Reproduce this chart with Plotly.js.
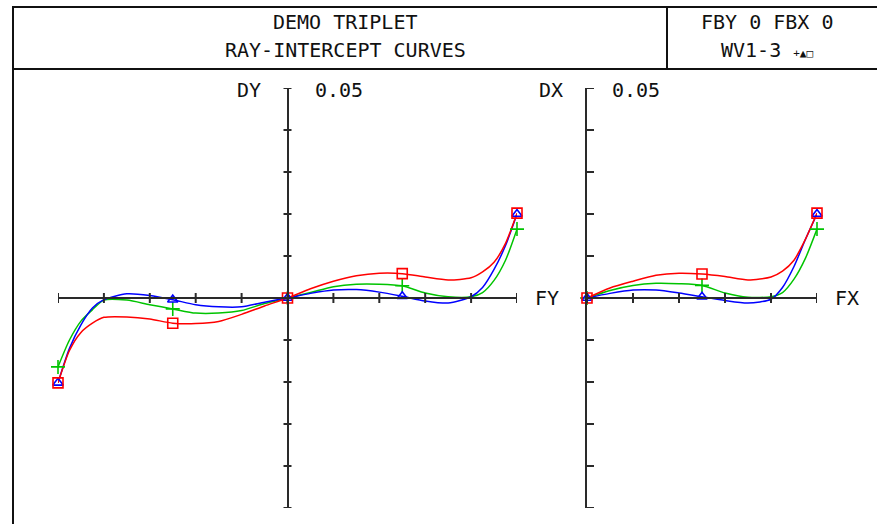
<!DOCTYPE html>
<html>
<head>
<meta charset="utf-8">
<script src="https://cdn.plot.ly/plotly-3.0.1.min.js"></script>
<style>html,body{margin:0;padding:0;background:#fff;}#chart{width:877px;height:524px;}</style>
</head>
<body>
<div id="chart"></div>
<script>
// ---- data ----
const fy = [-1,-0.95,-0.9,-0.85,-0.8,-0.7,-0.6,-0.5,-0.4,-0.3,-0.2,-0.1,0,0.1,0.2,0.3,0.4,0.5,0.6,0.7,0.8,0.85,0.9,0.95,1];
const dyRed   = [-0.0202,-0.0125,-0.0082,-0.0060,-0.0046,-0.0045,-0.0050,-0.0060,-0.0061,-0.0056,-0.0039,-0.0019,0,0.0022,0.0040,0.0053,0.0059,0.0058,0.0050,0.0043,0.0048,0.0062,0.0085,0.0130,0.0202];
const dyGreen = [-0.0164,-0.0100,-0.0055,-0.0028,-0.0005,-0.0005,-0.0016,-0.0026,-0.0036,-0.0036,-0.0030,-0.0013,0,0.0013,0.0027,0.0033,0.0033,0.0029,0.0012,0.0003,0.0003,0.0013,0.0042,0.0090,0.0164];
const dyBlue  = [-0.0202,-0.0120,-0.0064,-0.0024,-0.0004,0.0010,0.0006,-0.0004,-0.0016,-0.0021,-0.0021,-0.0010,0,0.0011,0.0019,0.0020,0.0014,0.0004,-0.0007,-0.0012,0.0003,0.0025,0.0068,0.0125,0.0200];

const fx = [0,0.1,0.2,0.3,0.4,0.5,0.6,0.7,0.8,0.85,0.9,0.95,1];
const dxRed   = [0,0.0024,0.0040,0.0054,0.0059,0.0057,0.0051,0.0043,0.0050,0.0064,0.0090,0.0140,0.0202];
const dxGreen = [0,0.0018,0.0030,0.0035,0.0034,0.0030,0.0012,0.0002,0.0003,0.0013,0.0045,0.0095,0.0164];
const dxBlue  = [0,0.0011,0.0019,0.0019,0.0012,0.0003,-0.0006,-0.0012,-0.0003,0.0025,0.0075,0.0140,0.0200];

const markFY = [-1,-0.5,0,0.5,1];
const markFX = [0,0.5,1];

const tickFY = [-1,-0.8,-0.6,-0.4,-0.2,0,0.2,0.4,0.6,0.8,1];
const tickFX = [0,0.2,0.4,0.6,0.8,1];
const tickD  = [-0.05,-0.04,-0.03,-0.02,-0.01,0,0.01,0.02,0.03,0.04,0.05];

const titleLines = ["DEMO TRIPLET","RAY-INTERCEPT CURVES"];
const infoLines = ["FBY 0 FBX 0","WV1-3 <span style='font-size:11px'>+▲□</span>"];
const axisLabels = {dy:'DY', dx:'DX', fy:'FY', fx:'FX', top:'0.05'};

// ---- helpers ----
const W = 877, H = 524;
const px = v => v / W;
const py = v => 1 - v / H;
const pick = (xs, ys, at) => at.map(a => ys[xs.indexOf(a)]);

const colors = {red:'#ff0000', green:'#00c400', blue:'#0000ff'};
const FONT = 'DejaVu Sans Mono, monospace';
const AX = '#2a2a2a';

const series = [
  {c:colors.green, dy:dyGreen, dx:dxGreen, sym:'cross-thin-open', size:10},
  {c:colors.blue,  dy:dyBlue,  dx:dxBlue,  sym:'triangle-up-open', size:9},
  {c:colors.red,   dy:dyRed,   dx:dxRed,   sym:'square-open', size:10}
];

const traces = [];
series.forEach(s => {
  traces.push({x:fy, y:s.dy, xaxis:'x', yaxis:'y', mode:'lines', cliponaxis:false, line:{color:s.c, width:1.5, shape:'spline', smoothing:0.7}, hoverinfo:'skip'});
  traces.push({x:fx, y:s.dx, xaxis:'x2', yaxis:'y2', mode:'lines', cliponaxis:false, line:{color:s.c, width:1.5, shape:'spline', smoothing:0.7}, hoverinfo:'skip'});
});
series.forEach(s => {
  traces.push({x:markFY, y:pick(fy, s.dy, markFY), xaxis:'x', yaxis:'y', mode:'markers', cliponaxis:false, marker:{symbol:s.sym, size:s.size, color:s.c, line:{color:s.c, width:1.6}}, hoverinfo:'skip'});
  traces.push({x:markFX, y:pick(fx, s.dx, markFX), xaxis:'x2', yaxis:'y2', mode:'markers', cliponaxis:false, marker:{symbol:s.sym, size:s.size, color:s.c, line:{color:s.c, width:1.6}}, hoverinfo:'skip'});
});

const xdL = [px(58), px(517)];
const xdR = [px(587), px(817)];
const yd  = [py(508), py(88)];
const yZero = (yd[0] + yd[1]) / 2;
const xZeroL = (xdL[0] + xdL[1]) / 2;

const baseAx = {showgrid:false, zeroline:false, showticklabels:false, showline:true, linecolor:AX, linewidth:2, ticks:'', fixedrange:true};

// tick marks (both sides of the axis line, or one side for the DX axis)
const tickShapes = [];
const tk = {color:AX, width:2};
tickFY.forEach(v => tickShapes.push({type:'line', xref:'x', yref:'paper', x0:v, x1:v, y0:yZero-5/H, y1:yZero+5/H, line:tk}));
tickFX.forEach(v => tickShapes.push({type:'line', xref:'x2', yref:'paper', x0:v, x1:v, y0:yZero-5/H, y1:yZero+5/H, line:tk}));
tickD.forEach(v => tickShapes.push({type:'line', xref:'paper', yref:'y', x0:xZeroL-4/W, x1:xZeroL+4/W, y0:v, y1:v, line:tk}));
tickD.forEach(v => tickShapes.push({type:'line', xref:'paper', yref:'y2', x0:xdR[0], x1:xdR[0]+7/W, y0:v, y1:v, line:tk}));

const ann = (text, x, y, size) => ({text, x:px(x), y:py(y), xref:'paper', yref:'paper', xanchor:'center', yanchor:'middle', showarrow:false, font:{family:FONT, size:size||20, color:'#111'}});

const layout = {
  width: W, height: H,
  margin: {l:0, r:0, t:0, b:0},
  paper_bgcolor:'#ffffff', plot_bgcolor:'rgba(0,0,0,0)',
  showlegend:false,
  xaxis:  Object.assign({}, baseAx, {domain:xdL, range:[-1,1], anchor:'free', position:yZero}),
  yaxis:  Object.assign({}, baseAx, {domain:yd, range:[-0.05,0.05], anchor:'free', position:xZeroL}),
  xaxis2: Object.assign({}, baseAx, {domain:xdR, range:[0,1], anchor:'free', position:yZero}),
  yaxis2: Object.assign({}, baseAx, {domain:yd, range:[-0.05,0.05], anchor:'x2'}),
  shapes: [
    {type:'rect', xref:'paper', yref:'paper', x0:px(13), x1:px(890), y0:py(7), y1:py(540), line:{color:'#111', width:2}},
    {type:'line', xref:'paper', yref:'paper', x0:px(13), x1:px(890), y0:py(69), y1:py(69), line:{color:'#111', width:2}},
    {type:'line', xref:'paper', yref:'paper', x0:px(667), x1:px(667), y0:py(7), y1:py(69), line:{color:'#111', width:2}}
  ].concat(tickShapes),
  annotations: [
    ann(titleLines[0], 345, 22),
    ann(titleLines[1], 345, 50),
    ann(infoLines[0], 767, 22),
    ann(infoLines[1], 767, 50),
    ann(axisLabels.dy, 249, 90),
    ann(axisLabels.top, 339, 90),
    ann(axisLabels.dx, 551, 90),
    ann(axisLabels.top, 636, 90),
    ann(axisLabels.fy, 547, 298),
    ann(axisLabels.fx, 847, 298)
  ]
};

Plotly.newPlot('chart', traces, layout, {displayModeBar:false, staticPlot:true});
</script>
</body>
</html>
